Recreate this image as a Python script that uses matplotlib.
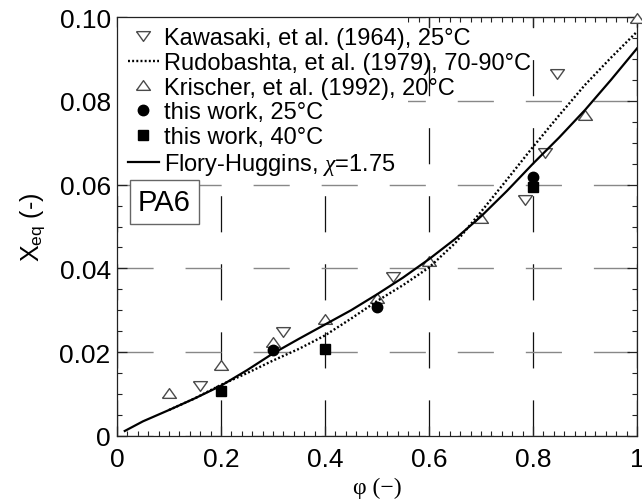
import matplotlib
matplotlib.use("Agg")
import matplotlib.pyplot as plt
from matplotlib.patches import Rectangle
from matplotlib.ticker import MultipleLocator, FixedLocator, FixedFormatter

plt.rcParams['font.family'] = ['Liberation Sans', 'DejaVu Sans']
plt.rcParams['mathtext.fontset'] = 'custom'
plt.rcParams['mathtext.rm'] = 'Liberation Sans'
plt.rcParams['mathtext.it'] = 'Liberation Serif:italic'
plt.rcParams['lines.scale_dashes'] = False

# Kawasaki et al. (1964), 25 C
kaw_phi = [0.16, 0.32, 0.53, 0.785, 0.823, 0.846]
kaw_x = [0.0120, 0.0248, 0.0379, 0.0564, 0.0676, 0.0864]

# Krischer et al. (1992), 20 C
kri_phi = [0.10, 0.20, 0.30, 0.40, 0.50, 0.60, 0.70, 0.90, 1.00]
kri_x = [0.0102, 0.0169, 0.0224, 0.0280, 0.0330, 0.0417, 0.0520, 0.0767, 0.0998]

# this work
w25_phi = [0.3, 0.5, 0.8]
w25_x = [0.0205, 0.0307, 0.0617]
w40_phi = [0.2, 0.4, 0.8]
w40_x = [0.0107, 0.0207, 0.0595]

# Rudobashta et al. (1979), 70-90 C (dotted)
rud_phi = [0.1, 0.15, 0.2, 0.25, 0.3, 0.35, 0.4, 0.45, 0.5, 0.55, 0.6, 0.65,
           0.7, 0.75, 0.8, 0.85, 0.9, 0.95, 1.0]
rud_x = [0.0062, 0.0090, 0.0122, 0.0150, 0.0180, 0.0208, 0.0240, 0.0280, 0.0322,
         0.0360, 0.0402, 0.0460, 0.0535, 0.0612, 0.0690, 0.0765, 0.0838, 0.0903, 0.0965]

# Flory-Huggins, chi = 1.75 (solid)
fh_phi = [0.015, 0.05, 0.1, 0.15, 0.2, 0.25, 0.3, 0.35, 0.4, 0.45, 0.5, 0.55, 0.6,
          0.65, 0.7, 0.75, 0.8, 0.85, 0.9, 0.95, 1.0]
fh_x = [0.0012, 0.0035, 0.0062, 0.0090, 0.0120, 0.0157, 0.0197, 0.0232, 0.0266,
        0.0300, 0.0338, 0.0378, 0.0422, 0.0470, 0.0524, 0.0585, 0.0650, 0.0712,
        0.0778, 0.0850, 0.0925]

x_ticks = [0, 0.2, 0.4, 0.6, 0.8, 1.0]
x_labels = ['0', '0.2', '0.4', '0.6', '0.8', '1']
y_ticks = [0, 0.02, 0.04, 0.06, 0.08, 0.10]
y_labels = ['0', '0.02', '0.04', '0.06', '0.08', '0.10']

# open triangles, a bit flatter than the default ones
up_tri = [(-1, -0.7), (1, -0.7), (0, 0.7), (-1, -0.7)]
down_tri = [(-1, 0.7), (1, 0.7), (0, -0.7), (-1, 0.7)]

fig = plt.figure(figsize=(6.42, 5.02), dpi=100)
ax = fig.add_axes([0.1822, 0.1295, 0.8100, 0.8346])

tri_edge = '#4a4a4a'
ax.plot(kaw_phi, kaw_x, linestyle='none', marker=down_tri, ms=10, mfc='white',
        mec=tri_edge, mew=1.0, label='Kawasaki, et al. (1964), 25°C', zorder=3)
ax.plot(rud_phi, rud_x, color='black', lw=1.7, linestyle=(0, (1.4, 1.6)),
        label='Rudobashta, et al. (1979), 70-90°C', zorder=4)
ax.plot(kri_phi, kri_x, linestyle='none', marker=up_tri, ms=10, mfc='white',
        mec=tri_edge, mew=1.0, label='Krischer, et al. (1992), 20°C', zorder=3,
        clip_on=False)
ax.plot(w25_phi, w25_x, linestyle='none', marker='o', ms=7.5, color='black',
        label='this work, 25°C', zorder=5)
ax.plot(w40_phi, w40_x, linestyle='none', marker='s', ms=7.5, color='black',
        label='this work, 40°C', zorder=5)
ax.plot(fh_phi, fh_x, color='black', lw=1.6, label=r'Flory-Huggins, $\mathit{\chi}$=1.75',
        zorder=4)

ax.set_xlim(0, 1)
ax.set_ylim(0, 0.10)
ax.xaxis.set_major_locator(FixedLocator(x_ticks))
ax.xaxis.set_major_formatter(FixedFormatter(x_labels))
ax.yaxis.set_major_locator(FixedLocator(y_ticks))
ax.yaxis.set_major_formatter(FixedFormatter(y_labels))
ax.xaxis.set_minor_locator(MultipleLocator(0.02))
ax.yaxis.set_minor_locator(MultipleLocator(0.005))
ax.tick_params(which='both', direction='in', top=True, right=True, colors='#222222')
ax.tick_params(which='major', length=7, width=0.9, labelsize=19, labelcolor='black')
ax.tick_params(which='minor', length=3.5, width=0.8)
ax.tick_params(axis='x', which='major', pad=8)
ax.tick_params(axis='y', which='major', pad=4.5)
for s in ax.spines.values():
    s.set_linewidth(0.9)
    s.set_color('#222222')

ax.yaxis.grid(True, color='#888888', lw=1.0, linestyle=(0, (26, 23)), zorder=1)
ax.xaxis.grid(True, color='#111111', lw=0.9, linestyle=(0, (26, 23)), zorder=1)
ax.set_axisbelow(True)

# white area behind the legend that hides the grid there
ax.add_patch(Rectangle((0.0, 0.625), 0.56, 0.375, transform=ax.transAxes,
                       facecolor='white', edgecolor='none', zorder=1.5))

ax.set_xlabel('φ (−)', family='Liberation Serif', fontsize=17, labelpad=4)
ax.set_ylabel(r'X$_{\rm eq}$ (-)', fontsize=18, labelpad=8)

leg = ax.legend(loc='upper left', bbox_to_anchor=(0.002, 1.0), fontsize=17,
                frameon=False, handlelength=1.31, handletextpad=0.21,
                labelspacing=0.12, borderpad=0.22, borderaxespad=0.2)
leg.set_zorder(2)

ax.text(0.04, 0.0558, 'PA6', fontsize=21, va='center', ha='left', zorder=6,
        bbox=dict(boxstyle='square,pad=0.28', fc='white', ec='#666666', lw=1.0))

fig.savefig('out.png', dpi=100)
